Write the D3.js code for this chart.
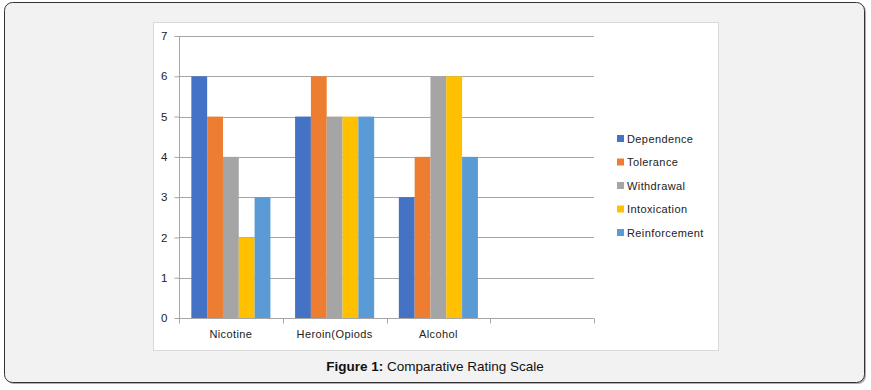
<!DOCTYPE html>
<html>
<head>
<meta charset="utf-8">
<script src="https://cdn.jsdelivr.net/npm/d3@7"></script>
<style>
  body { margin: 0; background: #ffffff; }
  svg { display: block; }
</style>
</head>
<body>
<div id="chart"></div>
<script>
// chart data
var categories = ["Nicotine", "Heroin(Opiods", "Alcohol", ""];
var seriesNames = ["Dependence", "Tolerance", "Withdrawal", "Intoxication", "Reinforcement"];
var dependence = [6, 5, 3];
var tolerance = [5, 6, 4];
var withdrawal = [4, 5, 6];
var intoxication = [2, 5, 6];
var reinforcement = [3, 5, 4];
var yTicks = [0, 1, 2, 3, 4, 5, 6, 7];
var colors = ["#4472C4", "#ED7D31", "#A5A5A5", "#FFC000", "#5B9BD5"];

var seriesValues = [dependence, tolerance, withdrawal, intoxication, reinforcement];

var width = 871;
var height = 390;

var svg = d3.select("#chart")
    .append("svg")
    .attr("width", width)
    .attr("height", height);

// outer panel
svg.append("rect")
    .attr("x", 6).attr("y", 4)
    .attr("width", 860).attr("height", 380)
    .attr("rx", 8)
    .attr("fill", "#b0b0b0");
svg.append("rect")
    .attr("x", 4.5).attr("y", 2.5)
    .attr("width", 860).attr("height", 380)
    .attr("rx", 8)
    .attr("fill", "#f2f2f2")
    .attr("stroke", "#333")
    .attr("stroke-width", 1);

// white chart box
svg.append("rect")
    .attr("x", 153.5).attr("y", 22.5)
    .attr("width", 565).attr("height", 328)
    .attr("fill", "#ffffff")
    .attr("stroke", "#d9d9d9");

// plot area
var plotLeft = 179, plotRight = 594, plotTop = 36, plotBottom = 318;

var x0 = d3.scaleBand()
    .domain(categories.map(function(d, i) { return i; }))
    .range([plotLeft, plotRight])
    .paddingInner(0)
    .paddingOuter(0);

// 5 bars of ~16px inside a ~104px category, ~12px gap either side
var x1 = d3.scaleBand()
    .domain(seriesNames)
    .range([0, x0.bandwidth()])
    .paddingOuter(0.78)
    .paddingInner(0);

var y = d3.scaleLinear()
    .domain([0, 7])
    .range([plotBottom, plotTop]);

// gridlines
svg.append("g")
    .selectAll("line")
    .data(yTicks.slice(1))
    .enter()
    .append("line")
    .attr("x1", plotLeft).attr("x2", plotRight)
    .attr("y1", function(d) { return Math.round(y(d)) + 0.5; })
    .attr("y2", function(d) { return Math.round(y(d)) + 0.5; })
    .attr("stroke", "#a6a6a6")
    .attr("stroke-width", 1);

// bars
var groups = svg.append("g")
    .selectAll("g")
    .data(seriesNames)
    .enter()
    .append("g")
    .attr("fill", function(d, i) { return colors[i]; });

groups.selectAll("rect")
    .data(function(name, si) {
        return seriesValues[si].map(function(v, ci) { return { name: name, ci: ci, v: v }; });
    })
    .enter()
    .append("rect")
    .attr("x", function(d) { return x0(d.ci) + x1(d.name); })
    .attr("width", x1.bandwidth())
    .attr("y", function(d) { return y(d.v); })
    .attr("height", function(d) { return y(0) - y(d.v); });

// y axis
var yAxis = d3.axisLeft(y).tickValues(yTicks).tickFormat(d3.format("d"))
    .tickSize(5).tickPadding(7);
var yg = svg.append("g")
    .attr("transform", "translate(" + (plotLeft + 0.5) + ",0)")
    .call(yAxis);
yg.selectAll("text")
    .attr("font-family", "Liberation Sans, Arial, sans-serif")
    .attr("font-size", 11.5)
    .attr("fill", "#222");
yg.selectAll("line, path").attr("stroke", "#a6a6a6");
yg.select(".domain").attr("d", "M0," + plotTop + "V" + plotBottom);

// x axis
var xAxis = d3.axisBottom(x0).tickSize(0).tickPadding(12)
    .tickFormat(function(i) { return categories[i]; });
var xg = svg.append("g")
    .attr("transform", "translate(0," + (plotBottom + 0.5) + ")")
    .call(xAxis);
xg.select(".domain").attr("stroke", "#a6a6a6").attr("d", "M" + plotLeft + ",0H" + plotRight);
xg.selectAll("text")
    .attr("font-family", "Liberation Sans, Arial, sans-serif")
    .attr("font-size", 11)
    .attr("letter-spacing", "0.4px")
    .attr("fill", "#222");

// category boundary ticks
var boundaries = categories.map(function(d, i) { return x0(i); }).concat([plotRight]);
xg.selectAll(".bound")
    .data(boundaries)
    .enter()
    .append("line")
    .attr("class", "bound")
    .attr("x1", function(d) { return Math.round(d) + 0.5; })
    .attr("x2", function(d) { return Math.round(d) + 0.5; })
    .attr("y1", 0).attr("y2", 5)
    .attr("stroke", "#a6a6a6");

// legend
var legend = svg.append("g")
    .selectAll("g")
    .data(seriesNames)
    .enter()
    .append("g")
    .attr("transform", function(d, i) { return "translate(617," + (139 + i * 23.5) + ")"; });

legend.append("rect")
    .attr("x", 0).attr("y", -4)
    .attr("width", 7).attr("height", 7)
    .attr("fill", function(d, i) { return colors[i]; });

legend.append("text")
    .attr("x", 10)
    .attr("y", 0)
    .attr("dy", "0.35em")
    .attr("font-family", "Liberation Sans, Arial, sans-serif")
    .attr("font-size", 11)
    .attr("letter-spacing", "0.4px")
    .attr("fill", "#222")
    .text(function(d) { return d; });

// caption
var caption = svg.append("text")
    .attr("x", 435)
    .attr("y", 371)
    .attr("text-anchor", "middle")
    .attr("font-family", "Liberation Sans, Arial, sans-serif")
    .attr("font-size", 13.5)
    .attr("fill", "#111");
caption.append("tspan").attr("font-weight", "bold").text("Figure 1:");
caption.append("tspan").text(" Comparative Rating Scale");
</script>
</body>
</html>
